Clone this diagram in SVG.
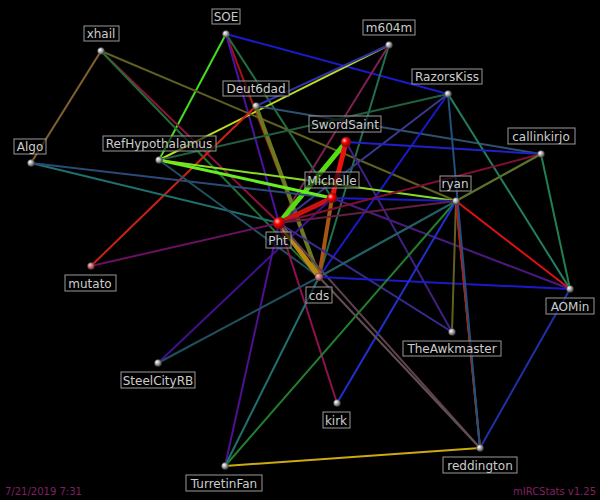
<svg xmlns="http://www.w3.org/2000/svg" width="600" height="500" viewBox="0 0 600 500">
<style>
.e{fill:none}
.n circle{stroke:#333;stroke-width:.5}
.n rect{fill:#000;fill-opacity:.6;stroke:#999;stroke-width:1}
.n text{font-family:"DejaVu Sans",sans-serif;font-size:12px;fill:#ccc;text-anchor:middle}
.f{font-family:"DejaVu Sans",sans-serif;font-size:10px;fill:#802060}
</style>
<defs>
<radialGradient id="g" cx="35%" cy="35%" r="65%"><stop offset="0" stop-color="#fff"/><stop offset="1" stop-color="#555"/></radialGradient>
<radialGradient id="r" cx="35%" cy="35%" r="65%"><stop offset="0" stop-color="#fcc"/><stop offset=".4" stop-color="#f00"/><stop offset="1" stop-color="#800"/></radialGradient>
<radialGradient id="m" cx="35%" cy="35%" r="65%"><stop offset="0" stop-color="#fbb"/><stop offset="1" stop-color="#833"/></radialGradient>
</defs>
<rect width="600" height="500" fill="#000"/>
<g id="connectors" stroke-width="2">
<line class="e" x1="226" y1="34" x2="448" y2="94" stroke="#1a1acc"/>
<line class="e" x1="226" y1="34" x2="159" y2="160" stroke="#44dd22"/>
<line class="e" x1="226" y1="34" x2="319" y2="277" stroke="#aa1111"/>
<line class="e" x1="226" y1="34" x2="332" y2="198" stroke="#207040"/>
<line class="e" x1="226" y1="34" x2="279" y2="223" stroke="#5010a0"/>
<line class="e" x1="389" y1="45" x2="159" y2="160" stroke="#bbdd22"/>
<line class="e" x1="389" y1="45" x2="319" y2="277" stroke="#207050"/>
<line class="e" x1="389" y1="45" x2="279" y2="223" stroke="#802050"/>
<line class="e" x1="389" y1="45" x2="256" y2="106" stroke="#3030aa"/>
<line class="e" x1="101" y1="51" x2="279" y2="223" stroke="#901040"/>
<line class="e" x1="101" y1="51" x2="319" y2="277" stroke="#207030"/>
<line class="e" x1="101" y1="51" x2="456" y2="201" stroke="#606020"/>
<line class="e" x1="101" y1="51" x2="31" y2="163" stroke="#806030"/>
<line class="e" x1="256" y1="106" x2="319" y2="277" stroke="#6a7a20" stroke-width="4"/>
<line class="e" x1="256" y1="106" x2="91" y2="266" stroke="#cc2211"/>
<line class="e" x1="256" y1="106" x2="541" y2="154" stroke="#305070"/>
<line class="e" x1="448" y1="94" x2="570" y2="289" stroke="#208060"/>
<line class="e" x1="448" y1="94" x2="319" y2="277" stroke="#1a1acc"/>
<line class="e" x1="448" y1="94" x2="279" y2="223" stroke="#3a3a90"/>
<line class="e" x1="448" y1="94" x2="159" y2="160" stroke="#206040"/>
<line class="e" x1="346" y1="142" x2="279" y2="223" stroke="#55dd11" stroke-width="5"/>
<line class="e" x1="346" y1="142" x2="332" y2="198" stroke="#ee1111" stroke-width="5"/>
<line class="e" x1="346" y1="142" x2="541" y2="154" stroke="#2020cc"/>
<line class="e" x1="346" y1="142" x2="452" y2="332" stroke="#402080"/>
<line class="e" x1="31" y1="163" x2="279" y2="223" stroke="#207070"/>
<line class="e" x1="31" y1="163" x2="332" y2="198" stroke="#2a4a7a"/>
<line class="e" x1="159" y1="160" x2="332" y2="198" stroke="#66ee22" stroke-width="3"/>
<line class="e" x1="159" y1="160" x2="456" y2="201" stroke="#88dd22"/>
<line class="e" x1="159" y1="160" x2="319" y2="277" stroke="#205060"/>
<line class="e" x1="332" y1="198" x2="279" y2="223" stroke="#cc1111" stroke-width="5"/>
<line class="e" x1="332" y1="198" x2="319" y2="277" stroke="#aa5511" stroke-width="4"/>
<line class="e" x1="332" y1="198" x2="456" y2="201" stroke="#1a1acc"/>
<line class="e" x1="332" y1="198" x2="158" y2="363" stroke="#401090"/>
<line class="e" x1="332" y1="198" x2="570" y2="289" stroke="#4a1a80"/>
<line class="e" x1="279" y1="223" x2="319" y2="277" stroke="#bb8811" stroke-width="5"/>
<line class="e" x1="279" y1="223" x2="541" y2="154" stroke="#801030"/>
<line class="e" x1="279" y1="223" x2="91" y2="266" stroke="#6a1060"/>
<line class="e" x1="279" y1="223" x2="337" y2="403" stroke="#901050"/>
<line class="e" x1="279" y1="223" x2="225" y2="466" stroke="#501090"/>
<line class="e" x1="279" y1="223" x2="480" y2="448" stroke="#604050"/>
<line class="e" x1="279" y1="223" x2="452" y2="332" stroke="#3a2a90"/>
<line class="e" x1="279" y1="223" x2="456" y2="201" stroke="#602040"/>
<line class="e" x1="319" y1="277" x2="570" y2="289" stroke="#1a1acc"/>
<line class="e" x1="319" y1="277" x2="456" y2="201" stroke="#2a5a9a"/>
<line class="e" x1="319" y1="277" x2="225" y2="466" stroke="#207070"/>
<line class="e" x1="319" y1="277" x2="158" y2="363" stroke="#205060"/>
<line class="e" x1="319" y1="277" x2="541" y2="154" stroke="#206060"/>
<line class="e" x1="456" y1="201" x2="570" y2="289" stroke="#dd1111"/>
<line class="e" x1="456" y1="201" x2="480" y2="448" stroke="#30a030"/>
<line class="e" x1="456" y1="201" x2="225" y2="466" stroke="#208030"/>
<line class="e" x1="456" y1="201" x2="337" y2="403" stroke="#2030cc"/>
<line class="e" x1="456" y1="201" x2="452" y2="332" stroke="#606020"/>
<line class="e" x1="541" y1="154" x2="456" y2="201" stroke="#607020"/>
<line class="e" x1="541" y1="154" x2="570" y2="289" stroke="#208050"/>
<line class="e" x1="570" y1="289" x2="480" y2="448" stroke="#2030aa"/>
<line class="e" x1="480" y1="448" x2="319" y2="277" stroke="#605050"/>
<line class="e" x1="480" y1="448" x2="456" y2="201" stroke="#cc1111"/>
<line class="e" x1="480" y1="448" x2="225" y2="466" stroke="#ccaa11"/>
<line class="e" x1="448" y1="94" x2="480" y2="448" stroke="#205080"/>
</g>
<g id="n-SOE" class="n"><rect x="212" y="9" width="28" height="15"/><text x="226" y="21">SOE</text><circle cx="226" cy="34" r="3.5" fill="url(#g)"/></g>
<g id="n-m604m" class="n"><rect x="363" y="20" width="52" height="15"/><text x="389" y="32">m604m</text><circle cx="389" cy="45" r="3.5" fill="url(#g)"/></g>
<g id="n-xhail" class="n"><rect x="84" y="26" width="35" height="15"/><text x="101" y="38">xhail</text><circle cx="101" cy="51" r="3.5" fill="url(#g)"/></g>
<g id="n-Deut6dad" class="n"><rect x="223" y="81" width="66" height="15"/><text x="256" y="93">Deut6dad</text><circle cx="256" cy="106" r="3.5" fill="url(#g)"/></g>
<g id="n-RazorsKiss" class="n"><rect x="412" y="69" width="70" height="15"/><text x="447" y="81">RazorsKiss</text><circle cx="448" cy="94" r="3.5" fill="url(#g)"/></g>
<g id="n-callinkirjo" class="n"><rect x="508" y="128" width="67" height="16"/><text x="541" y="141">callinkirjo</text><circle cx="541" cy="154" r="3.5" fill="url(#g)"/></g>
<g id="n-Algo" class="n"><rect x="14" y="139" width="32" height="15"/><text x="30" y="151">Algo</text><circle cx="31" cy="163" r="3.5" fill="url(#g)"/></g>
<g id="n-RefHypothalamus" class="n"><rect x="103" y="136" width="113" height="15"/><text x="159" y="148">RefHypothalamus</text><circle cx="159" cy="160" r="3.5" fill="url(#g)"/></g>
<g id="n-ryan" class="n"><rect x="440" y="176" width="31" height="15"/><text x="455" y="188">ryan</text><circle cx="456" cy="201" r="3.5" fill="url(#g)"/></g>
<g id="n-mutato" class="n"><rect x="65" y="275" width="51" height="16"/><text x="90" y="288">mutato</text><circle cx="91" cy="266" r="3.5" fill="url(#m)"/></g>
<g id="n-AOMin" class="n"><rect x="546" y="298" width="48" height="16"/><text x="570" y="311">AOMin</text><circle cx="570" cy="289" r="3.5" fill="url(#g)"/></g>
<g id="n-TheAwkmaster" class="n"><rect x="403" y="341" width="98" height="15"/><text x="452" y="353">TheAwkmaster</text><circle cx="452" cy="332" r="3.5" fill="url(#g)"/></g>
<g id="n-SteelCityRB" class="n"><rect x="121" y="372" width="74" height="16"/><text x="158" y="385">SteelCityRB</text><circle cx="158" cy="363" r="3.5" fill="url(#g)"/></g>
<g id="n-kirk" class="n"><rect x="323" y="412" width="27" height="16"/><text x="336" y="425">kirk</text><circle cx="337" cy="403" r="3.5" fill="url(#g)"/></g>
<g id="n-reddington" class="n"><rect x="443" y="457" width="74" height="16"/><text x="480" y="470">reddington</text><circle cx="480" cy="448" r="3.5" fill="url(#g)"/></g>
<g id="n-TurretinFan" class="n"><rect x="186" y="475" width="76" height="16"/><text x="224" y="488">TurretinFan</text><circle cx="225" cy="466" r="3.5" fill="url(#g)"/></g>
<g id="n-SwordSaint" class="n"><rect x="309" y="116" width="72" height="16"/><text x="345" y="129">SwordSaint</text><circle cx="346" cy="142" r="5" fill="url(#r)"/></g>
<g id="n-Michelle" class="n"><rect x="305" y="172" width="54" height="16"/><text x="332" y="185">Michelle</text><circle cx="332" cy="198" r="5" fill="url(#r)"/></g>
<g id="n-Pht" class="n"><rect x="266" y="232" width="25" height="16"/><text x="278" y="245">Pht</text><circle cx="279" cy="223" r="6" fill="url(#r)"/></g>
<g id="n-cds" class="n"><rect x="306" y="287" width="26" height="16"/><text x="319" y="300">cds</text><circle cx="319" cy="277" r="4" fill="url(#m)"/></g>
<text class="f" x="5" y="495">7/21/2019 7:31</text>
<text class="f" x="596" y="495" text-anchor="end">mIRCStats v1.25</text>
</svg>
